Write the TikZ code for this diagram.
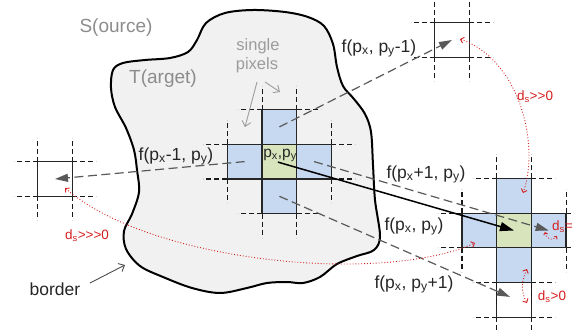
\documentclass[tikz,border=0pt]{standalone}
\usepackage{fontspec}
\setmainfont{Liberation Sans}
\usetikzlibrary{arrows.meta}
\definecolor{cblue}{HTML}{C6D9F0}
\definecolor{cgreen}{HTML}{D7E4BC}
\definecolor{blobfill}{HTML}{F1F1F1}
\definecolor{dred}{HTML}{D42020}
\definecolor{lgray}{HTML}{8C8C8C}
\definecolor{llgray}{HTML}{9C9C9C}
\tikzset{
  cell/.style={draw=black!85, line width=1.2pt, minimum width=34.7pt, minimum height=34.7pt, inner sep=0pt, outer sep=0pt},
  ext/.style={black!90, line width=1.1pt, dash pattern=on 5pt off 3pt},
  conn/.style={black!65, line width=1.2pt, dash pattern=on 9pt off 4.5pt, -{Triangle[length=13pt,width=8pt]}},
  mainconn/.style={black, line width=1.5pt, -{Triangle[length=14pt,width=9pt]}},
  redarc/.style={dred, line width=0.9pt, dotted, {Straight Barb[length=3pt,width=6pt]}-{Straight Barb[length=3pt,width=6pt]}},
  graylbl/.style={text=lgray, font=\fontsize{19}{22}\selectfont, anchor=base, inner sep=0pt},
  smallgray/.style={text=llgray, font=\fontsize{16.5}{20}\selectfont, anchor=base, inner sep=0pt},
  flbl/.style={text=black!85, font=\fontsize{17.5}{20}\selectfont, anchor=base, inner sep=0pt},
  redlbl/.style={text=dred, font=\fontsize{13.5}{16}\selectfont, anchor=base, inner sep=0pt},
  pointer/.style={line width=0.9pt, -{Straight Barb[length=5pt,width=9pt]}},
  pixsingle/.pic={
    \foreach \s in {-1,1}{
      \draw[ext] (\s*17.35,-17.35) -- (\s*17.35,-41.35);
      \draw[ext] (\s*17.35,17.35) -- (\s*17.35,41.35);
      \draw[ext] (-17.35,\s*17.35) -- (-41.35,\s*17.35);
      \draw[ext] (17.35,\s*17.35) -- (41.35,\s*17.35);
    }
    \node[cell, fill=white] (-c) at (0,0) {};
  },
  pixcross/.pic={
    \foreach \s in {-1,1}{
      \draw[ext] (\s*17.35,-52.05) -- (\s*17.35,-76.05);
      \draw[ext] (\s*17.35,52.05) -- (\s*17.35,76.05);
      \draw[ext] (-52.05,\s*17.35) -- (-76.05,\s*17.35);
      \draw[ext] (52.05,\s*17.35) -- (76.05,\s*17.35);
      \draw[ext] (\s*17.35,-52.05) -- (\s*41.35,-52.05);
      \draw[ext] (\s*17.35,52.05) -- (\s*41.35,52.05);
      \draw[ext] (-52.05,\s*17.35) -- (-52.05,\s*41.35);
      \draw[ext] (52.05,\s*17.35) -- (52.05,\s*41.35);
    }
    \node[cell, fill=cblue] (-t) at (0,-34.7) {};
    \node[cell, fill=cblue] (-b) at (0,34.7) {};
    \node[cell, fill=cblue] (-l) at (-34.7,0) {};
    \node[cell, fill=cblue] (-r) at (34.7,0) {};
    \node[cell, fill=cgreen] (-c) at (0,0) {};
  }
}
\begin{document}
\begin{tikzpicture}[x=1pt,y=-1pt]
\useasboundingbox (0,0) rectangle (573,332);
\clip (0,0) rectangle (573,332);
% blob
\draw[line width=2pt, fill=blobfill] plot[smooth cycle, tension=0.55] coordinates {
 (111,88) (113,70) (123,63) (145,60) (170,58) (188,52) (197,40) (206,23) (225,13) (253,10) (285,12) (308,17) (324,26) (333,44) (337,67) (343,86) (354,99) (365,114) (371,132) (373,165) (375,200) (380,236) (374,250) (357,256) (337,264) (320,277) (303,283) (287,282) (267,283) (247,288) (220,293) (192,288) (163,277) (140,266) (126,249) (124,231) (132,214) (139,192) (137,170) (134,150) (126,128) (115,107)};
% texts
\node[graylbl] (src) at (116,32) {S(ource)};
\node[graylbl] (tgt) at (163,83) {T(arget)};
\node[smallgray] (sg) at (258,50) {single};
\node[smallgray] (px) at (257,69) {pixels};
\node[flbl] (border) at (55,295.5) {border};
% pixel groups
\pic (rb) at (514,299.9) {pixsingle};
\pic (tr) at (452,40) {pixsingle};
\pic (lf) at (55,179) {pixsingle};
\pic (cc) at (279.4,161.6) {pixcross};
\pic (rc) at (514,230.5) {pixcross};
% pointers
\coordinate (sp1) at (257,82);
\coordinate (sp1e) at (245,127);
\coordinate (sp2) at (265,82);
\coordinate (sp2e) at (280,92);
\draw[pointer, llgray] (sp1) -- (sp1e);
\draw[pointer, llgray] (sp2) -- (sp2e);
\coordinate (bo1) at (90,283);
\coordinate (bo2) at (125,265);
\draw[pointer, black!70] (bo1) -- (bo2);
% labels
\node[flbl, font=\fontsize{15.5}{18}\selectfont] (pxy) at (280,157.5) {p\textsubscript{x},p\textsubscript{y}};
\node[flbl] (fl) at (176,160) {f(p\textsubscript{x}-1, p\textsubscript{y})};
\node[flbl] (ft) at (379,52) {f(p\textsubscript{x}, p\textsubscript{y}-1)};
\node[flbl] (fr) at (426,178) {f(p\textsubscript{x}+1, p\textsubscript{y})};
\node[flbl] (fc) at (414,230) {f(p\textsubscript{x}, p\textsubscript{y})};
\node[flbl] (fb) at (414,288) {f(p\textsubscript{x}, p\textsubscript{y}+1)};
% connectors
\draw[conn] (cc-t.center) -- (tr-c.center);
\draw[conn] (cc-l.center) -- (lf-c.center);
\draw[conn] (cc-r.center) -- (rc-r.center);
\draw[conn] (cc-b.center) -- ([shift={(-4,-3)}]rb-c.center);
\draw[mainconn] ([shift={(-1.5,0.5)}]cc-c.center) -- (rc-c.center);
% red arcs
\coordinate (ra1) at (65,188);
\coordinate (ra2) at (475,243);
\draw[redarc] (ra1) .. controls (150,262) and (380,285) .. (ra2);
\coordinate (rb1) at (460,39);
\coordinate (rb2) at (523,193);
\draw[redarc] (rb1) .. controls (520,60) and (540,145) .. (rb2);
\coordinate (rv1) at (527,269);
\coordinate (rv2) at (527,303);
\draw[redarc] (rv1) .. controls (521,282) and (521,292) .. (rv2);
\coordinate (rs1) at (545,232);
\coordinate (rs2) at (557,236);
\draw[redarc, {Straight Barb[length=2pt,width=4pt]}-{Straight Barb[length=2pt,width=4pt]}] (rs1) .. controls (547,240) and (553,241) .. (rs2);
\node[redlbl] (d2) at (535,100) {d\textsubscript{s}>{}>{}0};
\node[redlbl] (d3) at (87,239) {d\textsubscript{s}>{}>{}>{}0};
\node[redlbl] (d1) at (552,300) {d\textsubscript{s}>0};
\node[redlbl, anchor=base west] (d0) at (552,230) {d\textsubscript{s}=};
\end{tikzpicture}
\end{document}
